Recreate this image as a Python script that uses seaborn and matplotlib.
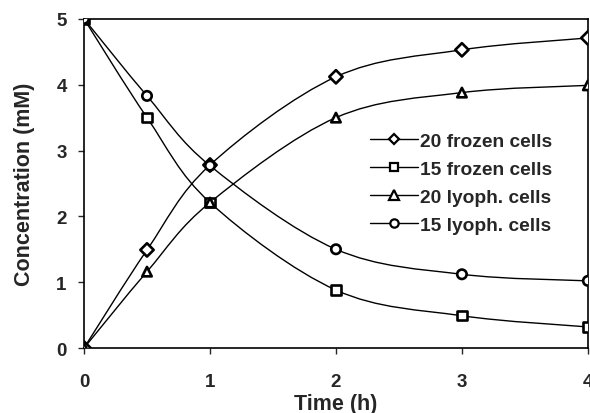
import numpy as np
import pandas as pd
import matplotlib
matplotlib.use('agg')
import matplotlib.pyplot as plt
from matplotlib.path import Path
from matplotlib.patches import PathPatch
from matplotlib.lines import Line2D
import seaborn as sns

# values
time_h = [0, 0.5, 1, 2, 3, 4]
frozen_20 = [0, 1.49, 2.78, 4.12, 4.53, 4.71]
frozen_15 = [5, 3.50, 2.21, 0.88, 0.49, 0.32]
lyoph_20 = [0, 1.16, 2.21, 3.50, 3.88, 3.99]
lyoph_15 = [5, 3.83, 2.77, 1.50, 1.12, 1.02]
labels = ["20 frozen cells", "15 frozen cells", "20 lyoph. cells", "15 lyoph. cells"]
markers = ["D", "s", "^", "o"]
msizes = [5, 6, 6.5, 6]

sns.set_style("white")
plt.rcParams['font.family'] = ['Liberation Sans', 'DejaVu Sans']
plt.rcParams['font.weight'] = 'bold'


def smooth_path(x, y):
    # excel-like smoothed line: cubic bezier through the points
    pts = np.column_stack([x, y]).astype(float)
    n = len(pts)
    verts = [pts[0]]
    codes = [Path.MOVETO]
    for i in range(n - 1):
        p0 = pts[i - 1] if i > 0 else pts[i]
        p1 = pts[i]
        p2 = pts[i + 1]
        p3 = pts[i + 2] if i + 2 < n else pts[i + 1]
        c1 = p1 + (p2 - p0) / 6.0
        c2 = p2 - (p3 - p1) / 6.0
        verts += [c1, c2, p2]
        codes += [Path.CURVE4] * 3
    return Path(verts, codes)


df = pd.DataFrame({
    "Time": time_h * 4,
    "Conc": frozen_20 + frozen_15 + lyoph_20 + lyoph_15,
    "Series": [lab for lab in labels for _ in time_h],
})

fig = plt.figure(figsize=(5.9, 4.14), dpi=100)
ax = fig.add_axes([0.1424, 0.157, 0.854, 0.795])

for lab, ys in zip(labels, [frozen_20, frozen_15, lyoph_20, lyoph_15]):
    ax.add_patch(PathPatch(smooth_path(time_h, ys), facecolor='none',
                           edgecolor='black', lw=1.0, zorder=2))

sns.scatterplot(data=df, x="Time", y="Conc", style="Series", markers=dict(zip(labels, markers)),
                color='white', edgecolor='black', linewidth=1.9, s=46, legend=False, zorder=3, ax=ax)

ax.set_xlim(0, 4)
ax.set_ylim(0, 5)
ax.set_xticks([0, 1, 2, 3, 4])
ax.set_yticks([0, 1, 2, 3, 4, 5])
ax.tick_params(axis='x', direction='out', length=4, width=1, pad=14, labelsize=13.5)
ax.tick_params(axis='y', direction='out', length=4, width=1, pad=8.5, labelsize=13.5)
ax.tick_params(bottom=True, left=True)
for s in ax.spines.values():
    s.set_color('black')
    s.set_linewidth(1.2)
ax.set_xlabel("Time (h)", fontsize=15.5, fontweight='bold', labelpad=2)
ax.set_ylabel("Concentration (mM)", fontsize=15.5, fontweight='bold', labelpad=15)

handles = [Line2D([], [], color='black', lw=1.0, marker=m, markersize=ms, markerfacecolor='white',
                  markeredgecolor='black', markeredgewidth=1.6) for m, ms in zip(markers, msizes)]
ax.legend(handles, labels, loc='upper left', bbox_to_anchor=(0.567, 0.654), frameon=False,
          borderpad=0, borderaxespad=0, handlelength=2.5, handletextpad=0.15, labelspacing=0.55,
          prop={'size': 13.8, 'weight': 'bold'})

fig.savefig("out.png", dpi=100)
